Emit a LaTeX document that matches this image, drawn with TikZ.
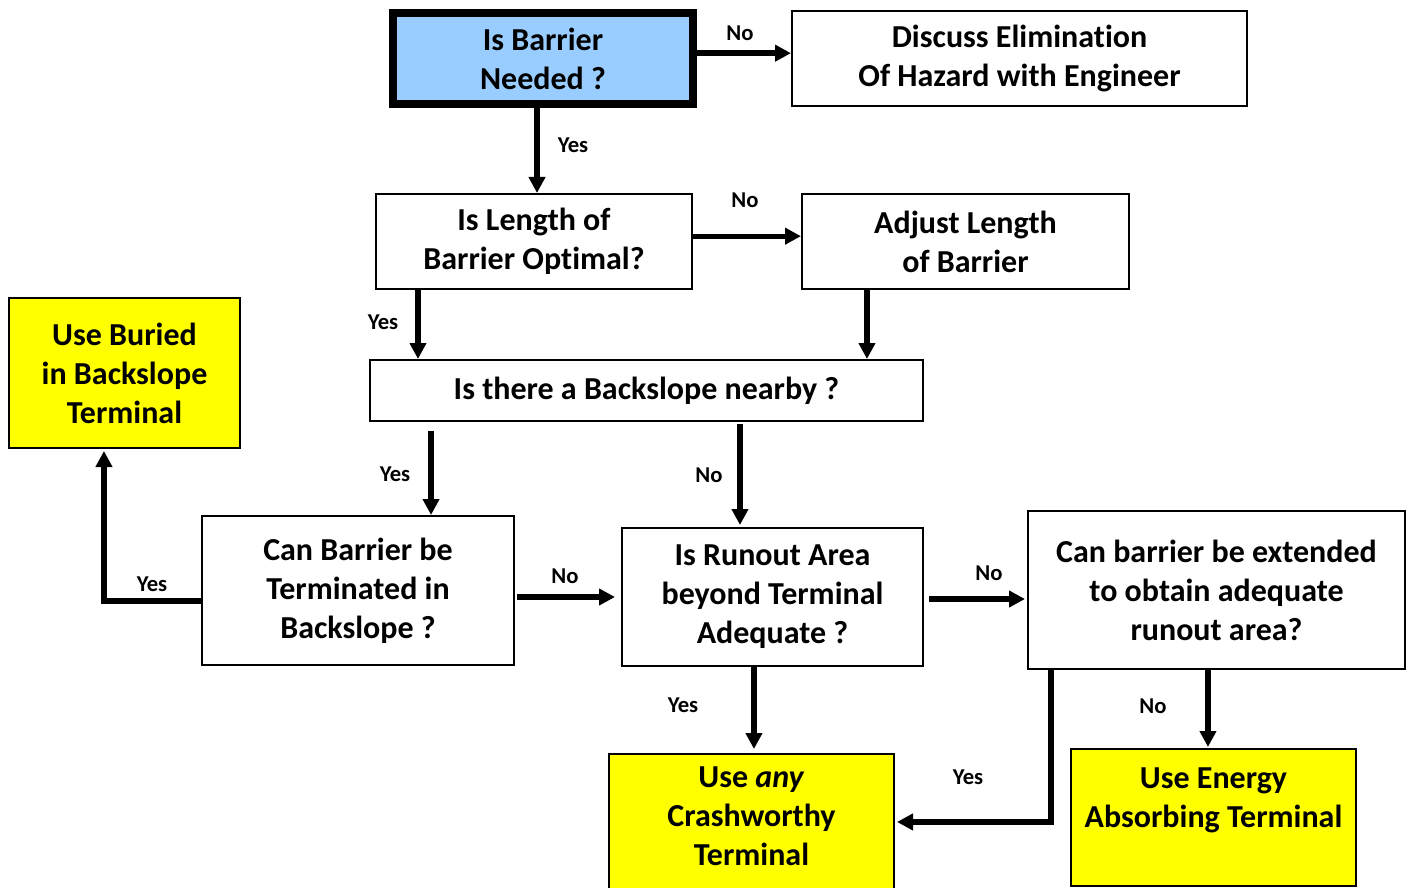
\documentclass[tikz,border=0pt]{standalone}
\usepackage{fontspec}
\setmainfont{Carlito}[Ligatures=NoCommon]
\usetikzlibrary{arrows.meta,calc}
\tikzset{every picture/.style={line width=0.75pt}}
\definecolor{askblue}{HTML}{99CCFF}
\definecolor{useyellow}{HTML}{FFFF00}
\tikzset{
  box/.style={draw, line width=1.5pt, align=center, inner sep=0.75pt,
    font=\fontsize{24}{29.25}\selectfont\bfseries},
  flowarr/.style={line width=4pt, -{Triangle[length=12pt,width=12pt]}},
  ans/.style={inner sep=0.75pt, font=\fontsize{17}{20}\selectfont\bfseries}
}

\begin{document}
\begin{tikzpicture}[x=0.75pt,y=0.75pt,yscale=-1,xscale=1]
\useasboundingbox (0,0) rectangle (1410,888);
% boxes
\draw (543,58.5) node [box, line width=6pt, fill=askblue, minimum width=225pt, minimum height=68.25pt] (need) {Is Barrier\\Needed ?};
\draw (1019.5,58.5) node [box, minimum width=341.25pt, minimum height=71.25pt] (discuss) {Discuss Elimination\\Of Hazard with Engineer};
\draw (534,241.5) node [box, minimum width=237pt, minimum height=71.25pt] (length) {Is Length of\\Barrier Optimal?};
\draw (965.5,241.5) node [box, minimum width=245.25pt, minimum height=71.25pt] (adjust) {Adjust Length\\of Barrier};
\draw (646.5,390.5) node [box, minimum width=414.75pt, minimum height=45.75pt] (backslope) {Is there a Backslope nearby ?};
\draw (124.5,373) node [box, fill=useyellow, minimum width=173.25pt, minimum height=112.5pt] (buried) {Use Buried\\in Backslope\\Terminal};
\draw (358,590.5) node [box, minimum width=234pt, minimum height=111.75pt] (canterm) {Can Barrier be\\Terminated in\\Backslope ?};
\draw (772.5,597) node [box, minimum width=225.75pt, minimum height=103.5pt] (runout) {Is Runout Area\\beyond Terminal\\Adequate ?};
\draw (1216.5,590) node [box, minimum width=282.75pt, minimum height=118.5pt] (extend) {Can barrier be extended\\to obtain adequate\\runout area?};
\draw (751.5,824.5) node [box, fill=useyellow, minimum width=213.75pt, minimum height=105.75pt] (anyterm) {Use \textit{any}\\Crashworthy\\Terminal\\[-17pt]~};
\draw (1213.5,817.5) node [box, fill=useyellow, minimum width=213.75pt, minimum height=102.75pt] (energy) {Use Energy\\Absorbing Terminal\\[0pt]~};
% connectors
\draw [flowarr] ([yshift=-4pt]need.east) -- ([yshift=-4pt]discuss.west);
\draw [flowarr] ([xshift=-4.5pt]need.south) -- ([xshift=-4.5pt]need.south |- length.north);
\draw [flowarr] ([yshift=-4pt]length.east) -- ([yshift=-4pt]length.east -| adjust.west);
\draw [flowarr] ([xshift=-87pt]length.south) -- ([xshift=-87pt]length.south |- backslope.north);
\draw [flowarr] ([xshift=-73.9pt]adjust.south) -- ([xshift=-73.9pt]adjust.south |- backslope.north);
\draw [flowarr] ([xshift=-161.6pt,yshift=6.75pt]backslope.south) -- ([xshift=-161.6pt]backslope.south |- canterm.north);
\draw [flowarr, shorten >=1.5pt] ([xshift=70.1pt,yshift=1.5pt]backslope.south) -- ([xshift=70.1pt]backslope.south |- runout.north);
\draw [flowarr, shorten >=1.5pt] ([yshift=7.9pt]canterm.west) -| ([xshift=-15.4pt]buried.south);
\draw [flowarr, shorten <=1.5pt, shorten >=4.5pt] (canterm.east |- runout.west) -- (runout.west);
\draw [flowarr, shorten <=3.75pt, shorten >=1.5pt] ([yshift=1.5pt]runout.east) -- ([yshift=1.5pt]runout.east -| extend.west);
\draw [flowarr, shorten >=3pt] ([xshift=-13.9pt]runout.south) -- ([xshift=-13.9pt]runout.south |- anyterm.north);
\draw [flowarr, shorten >=1.5pt] ([xshift=-124.1pt]extend.south) |- ([yshift=-1.9pt]anyterm.east);
\draw [flowarr, shorten >=0.75pt] ([xshift=-6.4pt]extend.south) -- ([xshift=-6.4pt]extend.south |- energy.north);
% answers
\draw (740,33) node [ans] (needno) {No};
\draw (573,145) node [ans] (needyes) {Yes};
\draw (745,200) node [ans] (lengthno) {No};
\draw (383,322) node [ans] (lengthyes) {Yes};
\draw (395,474) node [ans] (backyes) {Yes};
\draw (709,475) node [ans] (backno) {No};
\draw (152,584) node [ans] (termyes) {Yes};
\draw (565,576) node [ans] (termno) {No};
\draw (989,573) node [ans] (runoutno) {No};
\draw (683,705) node [ans] (runoutyes) {Yes};
\draw (968,777) node [ans] (extendyes) {Yes};
\draw (1153,706) node [ans] (extendno) {No};
\end{tikzpicture}
\end{document}
